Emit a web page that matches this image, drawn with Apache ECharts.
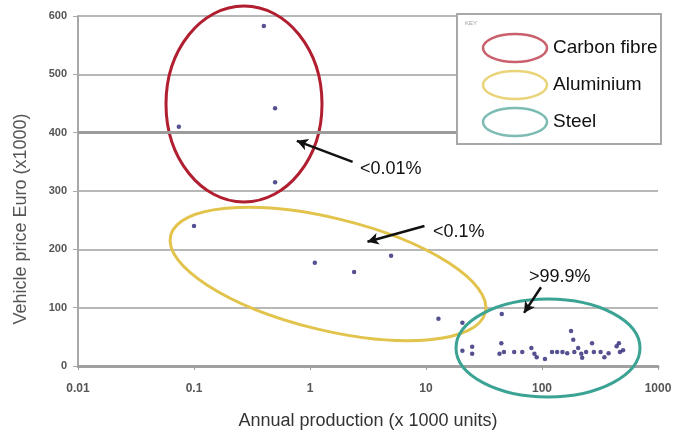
<!DOCTYPE html>
<html>
<head>
<meta charset="utf-8">
<script src="https://cdn.jsdelivr.net/npm/echarts@6/dist/echarts.min.js"></script>
<style>
  html, body { margin: 0; padding: 0; background: #fff; }
  #chart { width: 683px; height: 432px; }
</style>
</head>
<body>
<div id="chart"></div>
<script>
  // data: [annual production (x1000 units), price (x1000 euro)]
  var carbonFibre = [[0.4, 583], [0.5, 442], [0.074, 410], [0.5, 315]];
  var aluminium = [[0.1, 240], [1.1, 177], [2.4, 161], [5, 189], [12.8, 81], [20.6, 74], [45, 89]];
  var steel = [
    [20.6, 26], [25, 33], [25, 21], [44.6, 39], [43, 21], [47, 24], [57.6, 24], [67.6, 24],
    [81, 31], [86, 21], [90, 15], [106, 12], [122, 24], [135, 24], [150, 24], [165, 22],
    [178, 60], [186, 45], [190, 24], [205, 31], [218, 21], [222, 14], [240, 24], [270, 39],
    [280, 24], [320, 24], [345, 15], [375, 22], [440, 34], [460, 39], [470, 24], [500, 27]
  ];
  var xTickLabels = ['0.01', '0.1', '1', '10', '100', '1000'];
  var yMax = 600;
  var yStep = 100;
  var keyNames = ['Carbon fibre', 'Aluminium', 'Steel'];
  var shareLabels = ['<0.01%', '<0.1%', '>99.9%'];
  // arrows: [tail, head] in data coordinates
  var arrows = [
    [[2.33, 350], [0.77, 386]],
    [[9.7, 240], [3.13, 213]],
    [[98, 135], [70, 91]]
  ];

  var font = '"Liberation Sans", Arial, Helvetica, sans-serif';
  var ringColors = ['#b01e30', '#e2c34c', '#3aa394'];
  var keyColors = ['#c9606c', '#ead47a', '#7dbcb3'];

  var myChart = echarts.init(document.getElementById('chart'));

  var dotStyle = { color: '#2a2676' };

  var arrowLines = arrows.map(function (a) {
    return [
      { coord: a[0], symbol: 'none' },
      { coord: a[1], symbol: 'arrow', symbolSize: [9, 11] }
    ];
  });

  function note(txt, x, y, size) {
    return {
      type: 'text', x: x, y: y, z: 21,
      style: { text: txt, fill: '#111', font: size + 'px ' + font, textVerticalAlign: 'middle' }
    };
  }

  myChart.setOption({
    backgroundColor: '#fff',
    animation: false,
    grid: { left: 78, right: 25, top: 16, bottom: 66, containLabel: false, outerBoundsMode: 'none' },
    xAxis: {
      type: 'log',
      logBase: 10,
      min: 0.01,
      max: 1000,
      name: 'Annual production (x 1000 units)',
      nameLocation: 'middle',
      nameGap: 46,
      nameTextStyle: { color: '#333', fontSize: 18, fontFamily: font },
      axisLine: { show: true, lineStyle: { color: '#a0a0a0', width: 3 } },
      axisTick: { show: true, length: 4, lineStyle: { color: '#999' } },
      axisLabel: {
        color: '#555', fontSize: 12, fontWeight: 'bold', fontFamily: font, margin: 17,
        formatter: function (v) {
          var i = Math.round(Math.log10(v)) + 2;
          return xTickLabels[i] || '';
        }
      },
      splitLine: { show: false },
      minorTick: { show: false }
    },
    yAxis: {
      type: 'value',
      min: 0,
      max: yMax,
      interval: yStep,
      name: 'Vehicle price Euro (x1000)',
      nameLocation: 'middle',
      nameGap: 48,
      nameTextStyle: { color: '#555', fontSize: 18, fontFamily: font, padding: [0, 56, 0, 0] },
      axisLine: { show: true, lineStyle: { color: '#a8a8a8', width: 2 } },
      axisTick: { show: true, length: 5, lineStyle: { color: '#aaa' } },
      axisLabel: { color: '#555', fontSize: 11, fontWeight: 'bold', fontFamily: font, margin: 11 },
      splitLine: { show: true, lineStyle: { color: '#b8b8b8', width: 2 } }
    },
    series: [
      {
        name: keyNames[0], type: 'scatter', data: carbonFibre,
        symbol: 'circle', symbolSize: 4.5, itemStyle: dotStyle, z: 5,
        markLine: {
          silent: true,
          symbol: 'none',
          label: { show: false },
          lineStyle: { color: '#9c9c9c', width: 3, type: 'solid' },
          data: [{ yAxis: 400 }]
        }
      },
      {
        name: keyNames[1], type: 'scatter', data: aluminium,
        symbol: 'circle', symbolSize: 4.5, itemStyle: dotStyle, z: 5,
        markLine: {
          silent: true,
          label: { show: false },
          lineStyle: { color: '#111', width: 2.5, type: 'solid' },
          data: arrowLines
        }
      },
      {
        name: keyNames[2], type: 'scatter', data: steel,
        symbol: 'circle', symbolSize: 4.5, itemStyle: dotStyle, z: 5
      }
    ],
    graphic: [
      // ellipses around the groups
      { type: 'ellipse', shape: { cx: 244, cy: 104, rx: 78, ry: 98 }, style: { fill: null, stroke: ringColors[0], lineWidth: 3 }, z: 3 },
      { type: 'ellipse', x: 328, y: 274, rotation: -0.24, shape: { cx: 0, cy: 0, rx: 162, ry: 56 }, style: { fill: null, stroke: ringColors[1], lineWidth: 3 }, z: 3 },
      { type: 'ellipse', shape: { cx: 548, cy: 348, rx: 92, ry: 49 }, style: { fill: null, stroke: ringColors[2], lineWidth: 3 }, z: 3 },
      // share labels
      note(shareLabels[0], 360, 169, 18),
      note(shareLabels[1], 433, 232, 18),
      note(shareLabels[2], 529, 277, 18),
      // key box
      { type: 'rect', z: 20, shape: { x: 457, y: 14, width: 204, height: 130 }, style: { fill: '#fff', stroke: '#a8a8a8', lineWidth: 2 } },
      { type: 'text', z: 21, x: 465, y: 20, style: { text: 'KEY', fill: '#999', font: '6px ' + font } },
      { type: 'ellipse', z: 21, shape: { cx: 515, cy: 48, rx: 32, ry: 14 }, style: { fill: null, stroke: keyColors[0], lineWidth: 2.5 } },
      { type: 'ellipse', z: 21, shape: { cx: 515, cy: 85, rx: 32, ry: 14 }, style: { fill: null, stroke: keyColors[1], lineWidth: 2.5 } },
      { type: 'ellipse', z: 21, shape: { cx: 515, cy: 122, rx: 32, ry: 14 }, style: { fill: null, stroke: keyColors[2], lineWidth: 2.5 } },
      note(keyNames[0], 553, 48, 19),
      note(keyNames[1], 553, 85, 19),
      note(keyNames[2], 553, 122, 19)
    ]
  });
</script>
</body>
</html>
